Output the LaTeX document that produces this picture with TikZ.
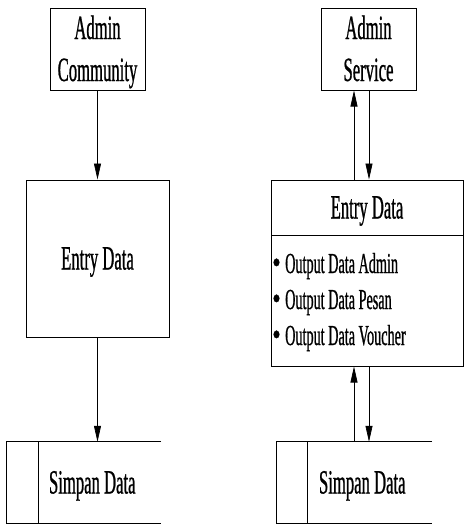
\documentclass[tikz,border=0pt]{standalone}
\usepackage{fontspec}
\setmainfont{Liberation Serif}[FakeStretch=0.49,FakeBold=0.7]
\newfontfamily\bulletfont{Liberation Serif}[FakeStretch=0.75,FakeBold=0.7]
\usetikzlibrary{arrows.meta}
\begin{document}
\begin{tikzpicture}[x=1pt,y=-1pt,
  big/.style={font=\fontsize{34}{42}\selectfont},
  box/.style={draw, line width=1pt, inner sep=0pt, big,
    text height=26pt, text depth=4pt},
  plain/.style={inner sep=0pt, big, text height=26pt, text depth=4pt},
  line/.style={inner sep=0pt, anchor=base, big},
  item/.style={inner sep=0pt, anchor=base west, font=\fontsize{29}{36}\selectfont},
  dot/.style={inner sep=0pt, anchor=base, font=\fontsize{32}{36}\bulletfont},
  flow/.style={line width=0.7pt, -{Triangle[length=16pt,width=7pt]}},
  store/.style={line width=1pt}]
\useasboundingbox (0,0) rectangle (465,525);

% left column
\node[box, minimum width=95pt, minimum height=82pt] (ac) at (97.5,49) {};
\node[line] (ac1) at (97.5,39) {Admin};
\node[line] (ac2) at (97.5,81) {Community};
\node[box, minimum width=143pt, minimum height=157pt] (ed1) at (97.5,258.5) {Entry Data};
\node[inner sep=0pt, minimum width=154pt, minimum height=81pt] (st1) at (84,482.5) {};
\draw[store] (st1.north east) -- (st1.north west) -- (st1.south west) -- (st1.south east);
\draw[store] ([xshift=32pt]st1.north west) -- ([xshift=32pt]st1.south west);
\node[plain, anchor=west] (sd1) at ([xshift=42pt]st1.west) {Simpan Data};

\draw[flow] (ac.south) -- (ed1.north);
\draw[flow] (ed1.south) -- (ed1.south |- st1.north);

% right column
\node[box, minimum width=95pt, minimum height=82pt] (as) at (368.5,49) {};
\node[line] (as1) at (368.5,39) {Admin};
\node[line] (as2) at (368.5,81) {Service};
\node[box, minimum width=192pt, minimum height=55pt] (ed2) at (367,207.5) {Entry Data};
\node[box, minimum width=192pt, minimum height=131pt] (list2) at (367,300.5) {};
\node[dot] (b1) at (276.5,273) {\textbullet};
\node[item] (i1) at (285,273) {Output Data Admin};
\node[dot] (b2) at (276.5,309) {\textbullet};
\node[item] (i2) at (285,309) {Output Data Pesan};
\node[dot] (b3) at (276.5,345) {\textbullet};
\node[item] (i3) at (285,345) {Output Data Voucher};

\node[inner sep=0pt, minimum width=155pt, minimum height=81pt] (st2) at (354.5,482.5) {};
\draw[store] (st2.north east) -- (st2.north west) -- (st2.south west) -- (st2.south east);
\draw[store] ([xshift=31pt]st2.north west) -- ([xshift=31pt]st2.south west);
\node[plain, anchor=west] (sd2) at ([xshift=42pt]st2.west) {Simpan Data};

\draw[flow] ([xshift=-13pt]ed2.north) -- ([xshift=-13pt]ed2.north |- as.south);
\draw[flow] ([xshift=2pt]ed2.north |- as.south) -- ([xshift=2pt]ed2.north);
\draw[flow] ([xshift=-13pt]list2.south |- st2.north) -- ([xshift=-13pt]list2.south);
\draw[flow] ([xshift=2pt]list2.south) -- ([xshift=2pt]list2.south |- st2.north);
\end{tikzpicture}
\end{document}
